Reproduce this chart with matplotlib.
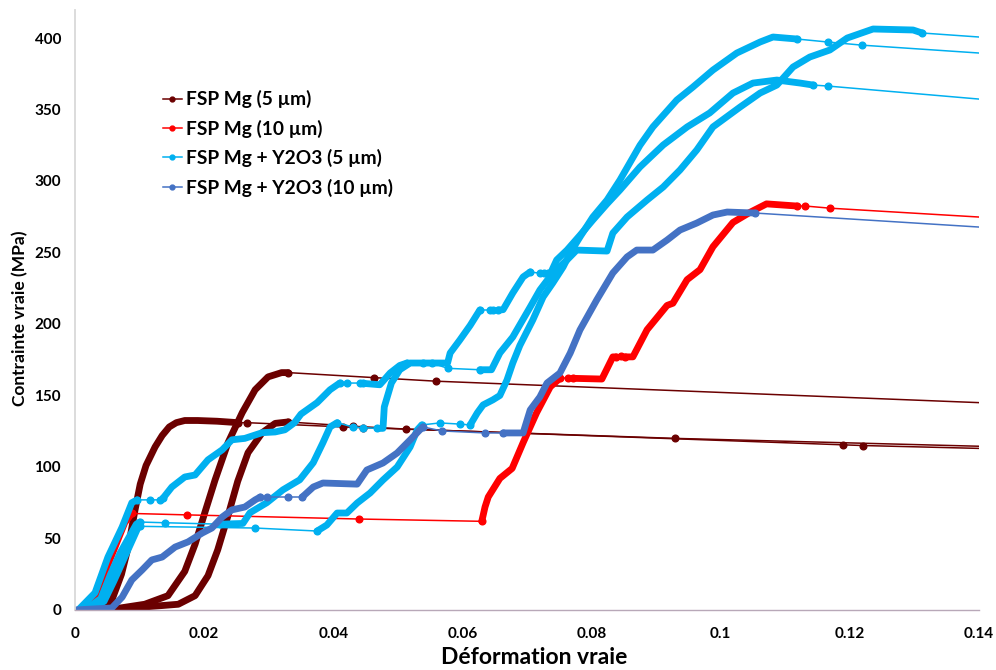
import matplotlib
matplotlib.use("Agg")
import matplotlib.pyplot as plt
from matplotlib.lines import Line2D

# ---- data (strain, stress MPa) ----
# dense parts of each test are drawn thick, sparse parts thin with markers
series_names = ["FSP Mg (5 µm)", "FSP Mg (10 µm)", "FSP Mg + Y2O3 (5 µm)", "FSP Mg + Y2O3 (10 µm)"]
series_colors = ["#6B0000", "#FF0000", "#00B0F0", "#4472C4"]

x_ticks = [0, 0.02, 0.04, 0.06, 0.08, 0.1, 0.12, 0.14]
x_tick_labels = ["0", "0.02", "0.04", "0.06", "0.08", "0.1", "0.12", "0.14"]
y_ticks = [0, 50, 100, 150, 200, 250, 300, 350, 400]

# FSP Mg (5 µm)
mg5_a_load = [(0.0045, 0), (0.0058, 8), (0.0072, 25), (0.0083, 45), (0.0093, 70), (0.0101, 88),
              (0.0110, 101), (0.0124, 114), (0.0135, 122), (0.0146, 128), (0.0157, 131), (0.0170, 132.5),
              (0.0190, 132.5), (0.0220, 132), (0.0252, 131)]
mg5_a_tail = [(0.0252, 131), (0.0266, 131), (0.0415, 128), (0.0446, 127.5), (0.0929, 120), (0.14, 114.5)]
mg5_b_load = [(0.0050, 0), (0.0108, 4), (0.0144, 10), (0.0170, 27), (0.0186, 46), (0.0201, 68),
              (0.0217, 91), (0.0237, 117), (0.0259, 138), (0.0279, 154), (0.0299, 163),
              (0.0320, 166), (0.0330, 166)]
mg5_b_tail = [(0.0330, 166), (0.0463, 162.5), (0.0559, 160), (0.14, 145)]
mg5_c_load = [(0.0050, 0), (0.0160, 4), (0.0186, 10), (0.0206, 24), (0.0221, 42), (0.0237, 66),
              (0.0252, 90), (0.0268, 110), (0.0290, 124), (0.0310, 130.5), (0.0330, 131.5)]
mg5_c_tail = [(0.0330, 131.5), (0.0430, 128.5), (0.0513, 126.5), (0.1189, 115.5), (0.1220, 115), (0.14, 113)]

# FSP Mg (10 µm)
mg10_load1 = [(0.0012, 0), (0.0022, 2), (0.0031, 7), (0.0046, 26), (0.0062, 44), (0.0077, 61), (0.0088, 67.5)]
mg10_gap1 = [(0.0088, 67.5), (0.0173, 66.5), (0.0440, 63.6), (0.0630, 62)]
mg10_rise1 = [(0.0630, 62), (0.0635, 72), (0.0640, 79), (0.0658, 92), (0.0677, 99), (0.0694, 117),
              (0.0715, 138), (0.0736, 156), (0.0751, 162)]
mg10_gap2 = [(0.0751, 162), (0.0763, 162), (0.0771, 162)]
mg10_rise2 = [(0.0771, 162), (0.0816, 161.5), (0.0833, 177), (0.0838, 177)]
mg10_gap3 = [(0.0838, 177), (0.0846, 177.5), (0.0852, 177)]
mg10_rise3 = [(0.0852, 177), (0.0864, 177), (0.0886, 196), (0.0917, 213), (0.0926, 214.5), (0.0948, 231),
              (0.0968, 238), (0.0988, 254), (0.1019, 271), (0.1045, 278), (0.1071, 284), (0.1118, 282.5)]
mg10_tail = [(0.1118, 282.5), (0.1131, 282.5), (0.1169, 281), (0.14, 274.8)]

# FSP Mg + Y2O3 (5 µm)
y5_u_load = [(0.0005, 0), (0.0031, 12), (0.0051, 37), (0.0073, 58), (0.0088, 75), (0.0096, 77)]
y5_u_gap1 = [(0.0096, 77), (0.0116, 77), (0.0132, 77), (0.0136, 78)]
y5_u_rise1 = [(0.0136, 78), (0.0150, 86), (0.0170, 93), (0.0186, 94.4), (0.0206, 105), (0.0228, 112),
              (0.0243, 119), (0.0263, 120), (0.0290, 124), (0.0310, 124.5), (0.0325, 126), (0.0340, 131),
              (0.0350, 137), (0.0375, 145), (0.0395, 154), (0.0410, 158.7)]
y5_u_gap2 = [(0.0410, 158.7), (0.0421, 158.7), (0.0441, 158.7), (0.0446, 158.5)]
y5_u_rise2 = [(0.0446, 158.5), (0.0472, 157.5), (0.0477, 160), (0.0488, 165.7), (0.0503, 171), (0.0514, 172.7)]
y5_u_gap3 = [(0.0514, 172.7), (0.0539, 172.7), (0.0553, 172.7), (0.0577, 169), (0.0627, 168)]
y5_u_rise3 = [(0.0627, 168), (0.0645, 168), (0.0658, 179.7), (0.0678, 190.9), (0.0705, 211.9), (0.0720, 223.8),
              (0.0740, 235.7), (0.0762, 244.8), (0.0777, 251.7), (0.0824, 251), (0.0833, 263.6),
              (0.0855, 274.8), (0.0886, 286.7), (0.0911, 295.8), (0.0937, 307.7), (0.0963, 321.7),
              (0.0988, 337.8), (0.1030, 351.7), (0.1061, 361.5), (0.1087, 367.1), (0.1112, 379.7),
              (0.1138, 386.7), (0.1169, 391.6), (0.1196, 400), (0.1236, 406.3), (0.1298, 405.6), (0.1312, 403.5)]
y5_u_tail = [(0.1312, 403.5), (0.14, 400.7)]

y5_v_load = [(0.0015, 0), (0.0040, 8), (0.0055, 25), (0.0070, 40), (0.0085, 52), (0.0095, 60), (0.0100, 61.5)]
y5_v_gap1 = [(0.0100, 61.5), (0.0139, 61), (0.0225, 60)]
y5_v_rise1 = [(0.0225, 60), (0.0260, 60.5), (0.0271, 68), (0.0297, 75), (0.0322, 84), (0.0348, 91),
              (0.0369, 103), (0.0384, 117), (0.0395, 128), (0.0406, 131)]
y5_v_gap2 = [(0.0406, 131), (0.0430, 128), (0.0446, 127.5), (0.0468, 127)]
y5_v_rise2 = [(0.0468, 127), (0.0477, 127), (0.0479, 142), (0.0490, 158.7), (0.0503, 168), (0.0519, 172.7),
              (0.0577, 172.7), (0.0581, 179.7), (0.0596, 188.8), (0.0612, 199), (0.0627, 209.8)]
y5_v_gap3 = [(0.0627, 209.8), (0.0643, 209.8), (0.0648, 209.8), (0.0655, 209.8)]
y5_v_rise3 = [(0.0655, 209.8), (0.0663, 210), (0.0678, 221.7), (0.0694, 232.9), (0.0705, 236.4)]
y5_v_gap4 = [(0.0705, 236.4), (0.0720, 235.5), (0.0727, 235.5), (0.0733, 235.5)]
y5_v_rise4 = [(0.0733, 235.5), (0.0736, 235), (0.0746, 244.8), (0.0762, 251.7), (0.0782, 262), (0.0802, 272.7),
              (0.0824, 284), (0.0844, 293.7), (0.0875, 309.8), (0.0911, 325.2), (0.0948, 337.8),
              (0.0983, 347.6), (0.1019, 361.5), (0.1050, 368.5), (0.1087, 370.6), (0.1123, 368.5), (0.1143, 367.1)]
y5_v_tail = [(0.1143, 367.1), (0.1166, 366.4), (0.14, 357.3)]

y5_w_load = [(0.0020, 0), (0.0045, 6), (0.0060, 20), (0.0075, 35), (0.0090, 50), (0.0097, 57), (0.0100, 58.5)]
y5_w_gap1 = [(0.0100, 58.5), (0.0279, 57.3), (0.0375, 55.2)]
y5_w_rise1 = [(0.0375, 55.2), (0.0390, 59.4), (0.0406, 67.8), (0.0421, 67.8), (0.0437, 74.8), (0.0457, 81.8),
              (0.0477, 90.9), (0.0499, 100), (0.0519, 114), (0.0530, 125.9), (0.0537, 129.4)]
y5_w_gap2 = [(0.0537, 129.4), (0.0565, 130.8), (0.0596, 130), (0.0612, 129.4)]
y5_w_rise2 = [(0.0612, 129.4), (0.0623, 137.8), (0.0632, 143.4), (0.0647, 146.9), (0.0658, 150), (0.0669, 160.8),
              (0.0678, 172.7), (0.0689, 185), (0.0709, 202.8), (0.0725, 218.9), (0.0740, 228.7), (0.0756, 239.9),
              (0.0767, 249.7), (0.0782, 260.8), (0.0802, 274.8), (0.0824, 286.7), (0.0844, 300.7),
              (0.0875, 325), (0.0895, 337.8), (0.0932, 356.6), (0.0957, 365.7), (0.0988, 377.6),
              (0.1025, 389.5), (0.1061, 397.2), (0.1081, 400.7), (0.1118, 399.3)]
y5_w_tail = [(0.1118, 399.3), (0.1166, 397.2), (0.1219, 395), (0.14, 389.5)]

# FSP Mg + Y2O3 (10 µm)
y10_load = [(0.0, 0), (0.0057, 1.4), (0.0073, 9), (0.0088, 21), (0.0104, 28), (0.0119, 35), (0.0135, 37),
            (0.0155, 44), (0.0175, 47.6), (0.0197, 53.8), (0.0212, 57.3), (0.0228, 65), (0.0243, 70),
            (0.0263, 72), (0.0279, 77), (0.0287, 79)]
y10_gap1 = [(0.0287, 79), (0.0297, 79), (0.0330, 79), (0.0352, 79)]
y10_rise1 = [(0.0352, 79), (0.0369, 86), (0.0384, 88.8), (0.0437, 88), (0.0452, 97.9), (0.0477, 102.8),
             (0.0499, 109.8), (0.0519, 118.9), (0.0534, 125.9), (0.0539, 128)]
y10_gap2 = [(0.0539, 128), (0.0568, 125.2), (0.0635, 123.8), (0.0663, 123.8)]
y10_rise2 = [(0.0663, 123.8), (0.0694, 123.8), (0.0705, 139.9), (0.0720, 149), (0.0731, 158.7), (0.0751, 165.7),
             (0.0767, 179.7), (0.0782, 195.8), (0.0808, 216.8), (0.0833, 235.7), (0.0855, 246.9),
             (0.0870, 251.7), (0.0895, 251.7), (0.0917, 258.7), (0.0937, 265.7), (0.0963, 270.6),
             (0.0988, 276.2), (0.1010, 278.3), (0.1053, 277.6)]
y10_tail = [(0.1053, 277.6), (0.14, 267.8)]

# segments alternate: dense, sparse, dense, sparse ...
tests = [
    (0, [mg5_a_load, mg5_a_tail]),
    (0, [mg5_b_load, mg5_b_tail]),
    (0, [mg5_c_load, mg5_c_tail]),
    (1, [mg10_load1, mg10_gap1, mg10_rise1, mg10_gap2, mg10_rise2, mg10_gap3, mg10_rise3, mg10_tail]),
    (2, [y5_w_load, y5_w_gap1, y5_w_rise1, y5_w_gap2, y5_w_rise2, y5_w_tail]),
    (2, [y5_v_load, y5_v_gap1, y5_v_rise1, y5_v_gap2, y5_v_rise2, y5_v_gap3, y5_v_rise3, y5_v_gap4,
         y5_v_rise4, y5_v_tail]),
    (2, [y5_u_load, y5_u_gap1, y5_u_rise1, y5_u_gap2, y5_u_rise2, y5_u_gap3, y5_u_rise3, y5_u_tail]),
    (3, [y10_load, y10_gap1, y10_rise1, y10_gap2, y10_rise2, y10_tail]),
]

plt.rcParams['font.family'] = ['Lato', 'DejaVu Sans']
plt.rcParams['font.weight'] = 'bold'

fig = plt.figure(figsize=(9.96, 6.7), dpi=100)
ax = fig.add_axes([0.0753, 0.0896, 0.9076, 0.8955])

for s, segments in tests:
    color = series_colors[s]
    for i, seg in enumerate(segments):
        xs = [p[0] for p in seg]
        ys = [p[1] for p in seg]
        if i % 2 == 0:
            ax.plot(xs, ys, color=color, lw=4.9, solid_capstyle='round',
                    solid_joinstyle='round', zorder=2 + s * 0.1)
        else:
            marks = list(range(len(seg) - 1)) if seg[-1][0] >= 0.14 else list(range(len(seg)))
            ax.plot(xs, ys, color=color, lw=1.1, marker='o', ms=4.8, markevery=marks,
                    zorder=2 + s * 0.1)

ax.set_xlim(0, 0.14)
ax.set_ylim(0, 419.6)
ax.set_xticks(x_ticks)
ax.set_xticklabels(x_tick_labels)
ax.set_yticks(y_ticks)
ax.tick_params(axis='both', length=0, labelsize=11)
ax.tick_params(axis='y', pad=10)
ax.tick_params(axis='x', pad=12)
for lab in ax.get_xticklabels() + ax.get_yticklabels():
    lab.set_fontweight('bold')

for side in ['top', 'right']:
    ax.spines[side].set_visible(False)
ax.spines['left'].set_color('#D9D9D9')
ax.spines['left'].set_linewidth(1.3)
ax.spines['bottom'].set_color('#B8A8B8')
ax.spines['bottom'].set_linewidth(1.0)

ax.set_xlabel("Déformation vraie", fontsize=16.5, fontweight='bold')
ax.set_ylabel("Contrainte vraie (MPa)", fontsize=12.5, fontweight='bold')
ax.xaxis.set_label_coords(0.508, -0.062)
ax.yaxis.set_label_coords(-0.052, 0.487)

handles = [Line2D([0], [0], color=c, lw=1.1, marker='o', ms=3.5) for c in series_colors]
leg = ax.legend(handles, series_names, loc='upper left', bbox_to_anchor=(0.0885, 0.879),
                frameon=False, prop={'size': 13.8, 'weight': 'bold'}, handlelength=1.0,
                handletextpad=0.2, labelspacing=0.59, borderaxespad=0)

fig.savefig("out.png", dpi=100)
